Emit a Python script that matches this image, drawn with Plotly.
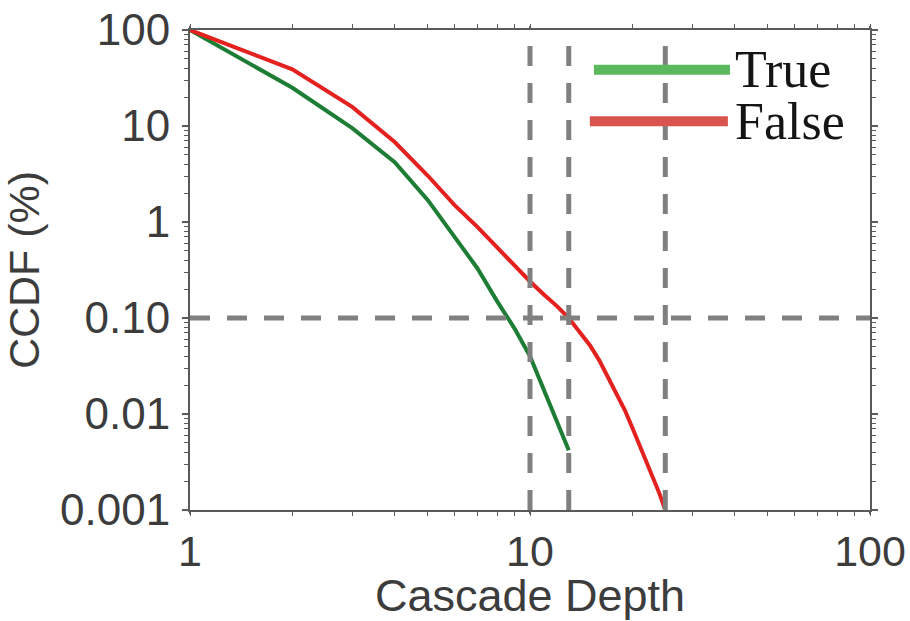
import plotly.graph_objects as go

# Cascade depth CCDF (%) for true vs. false rumor cascades
depth_true = [1, 2, 3, 4, 5, 6, 7, 8, 9, 10, 11, 12, 13]
ccdf_true = [100, 25, 9.5, 4.2, 1.7, 0.70, 0.33, 0.15, 0.078, 0.04, 0.018, 0.0085, 0.0042]

depth_false = [1, 2, 3, 4, 5, 6, 7, 8, 9, 10, 11, 12, 13, 14, 15,
               16, 17, 18, 19, 20, 21, 22, 23, 24, 25]
ccdf_false = [100, 39, 15.8, 6.8, 3.05, 1.5, 0.89, 0.54, 0.35, 0.24, 0.175, 0.133, 0.10,
              0.072, 0.052, 0.036, 0.024, 0.016, 0.011, 0.0072, 0.0048, 0.0032,
              0.0022, 0.0015, 0.001]

# reference markers: depths reached at 0.1% and maximum depths
ref_depths = [10, 13, 25]
ref_ccdf = 0.1

x_tickvals = [1, 10, 100]
x_ticktext = ["1", "10", "100"]
y_tickvals = [100, 10, 1, 0.1, 0.01, 0.001]
y_ticktext = ["100", "10", "1", "0.10", "0.01", "0.001"]

legend_labels = ["True", "False"]

line_green = "#1d7d34"
line_red = "#e3211f"
key_green = "#5cb85c"
key_red = "#d9534f"
ref_gray = "#808080"
axis_gray = "#5a5a5a"
text_gray = "#3c3c3c"

fig = go.Figure()
fig.add_trace(go.Scatter(x=depth_true, y=ccdf_true, mode="lines",
                         line=dict(color=line_green, width=4), showlegend=False))
fig.add_trace(go.Scatter(x=depth_false, y=ccdf_false, mode="lines",
                         line=dict(color=line_red, width=4), showlegend=False))

shapes = []
for d in ref_depths:
    shapes.append(dict(type="line", xref="x", yref="paper", x0=d, x1=d, y0=0, y1=1,
                       line=dict(color=ref_gray, width=5, dash="20px,17px"), layer="above"))
shapes.append(dict(type="line", xref="paper", yref="y", x0=0, x1=1, y0=ref_ccdf, y1=ref_ccdf,
                   line=dict(color=ref_gray, width=5, dash="20px,17px"), layer="above"))

# hand-made legend keys
key_y = [0.917, 0.810]
key_x0 = [0.594, 0.588]
key_x1 = [0.794, 0.791]
for col, ky, kx0, kx1 in zip([key_green, key_red], key_y, key_x0, key_x1):
    shapes.append(dict(type="line", xref="paper", yref="paper", x0=kx0, x1=kx1,
                       y0=ky, y1=ky, line=dict(color=col, width=10), layer="above"))

annotations = []
for lab, ky in zip(legend_labels, key_y):
    annotations.append(dict(xref="paper", yref="paper", x=0.799, y=ky, text=lab,
                            showarrow=False, xanchor="left", yanchor="middle",
                            font=dict(family="Liberation Serif", size=52, color="#151515")))

axis_common = dict(type="log", showline=True, linecolor=axis_gray, linewidth=2,
                   mirror="ticks", ticks="outside", tickwidth=2,
                   tickcolor=axis_gray, showgrid=False, zeroline=False, automargin=False,
                   minor=dict(dtick="D1", ticks="outside", ticklen=4, tickwidth=1,
                              tickcolor=axis_gray, showgrid=False))

fig.update_layout(
    width=910, height=621,
    margin=dict(l=190, r=40, t=30, b=111),
    paper_bgcolor="white", plot_bgcolor="white",
    xaxis=dict(range=[0, 2], tickvals=x_tickvals, ticktext=x_ticktext, ticklen=2,
               tickfont=dict(family="Liberation Sans", size=43, color=text_gray),
               title=dict(text="Cascade Depth", standoff=0,
                          font=dict(family="Liberation Sans", size=45, color=text_gray)),
               **axis_common),
    yaxis=dict(range=[-3, 2], tickvals=y_tickvals, ticktext=y_ticktext, ticklen=6,
               ticklabelstandoff=3,
               tickfont=dict(family="Liberation Sans", size=44, color=text_gray),
               title=dict(text="CCDF (%)", standoff=12,
                          font=dict(family="Liberation Sans", size=43, color=text_gray)),
               **axis_common),
    shapes=shapes,
    annotations=annotations,
    showlegend=False,
)

fig.write_html("out.html")
